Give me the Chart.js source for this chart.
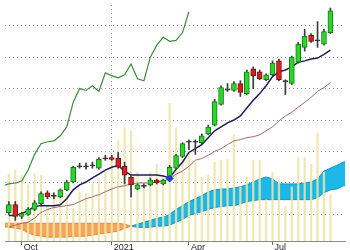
<!DOCTYPE html>
<html>
<head>
<meta charset="utf-8">
<script src="https://cdn.jsdelivr.net/npm/chart.js@4.4.0/dist/chart.umd.min.js"></script>
<style>
  html, body { margin: 0; padding: 0; background: #fff; }
</style>
</head>
<body>
<canvas id="myChart" width="350" height="250"></canvas>
<script>
// weekly candles, week 0 = first visible bar
var open  = [10.6,13.1,9.4,10.0,11.6,13.4,16.9,15.9,15.6,17.8,20.3,25.3,25.3,25.6,24.7,27.8,28.1,27.8,25.3,21.9,18.1,19.1,19.4,20.9,19.7,21.6,24.7,28.4,33.1,33.1,32.8,35.6,38.4,45.0,49.7,49.4,51.6,48.4,56.3,55.3,52.8,54.4,58.8,52.4,51.6,58.4,63.1,66.9,65.3,64.1,67.8];
var close = [13.1,9.4,10.3,11.6,13.7,16.6,15.6,15.9,17.8,20.3,25.0,25.3,25.3,25.6,27.5,27.8,27.5,25.0,22.5,19.4,19.4,19.1,20.9,20.0,20.9,25.0,28.7,32.5,33.1,33.1,35.0,37.8,45.9,50.3,49.7,51.6,48.8,55.3,54.1,53.1,54.4,58.1,52.8,52.4,60.0,64.1,66.6,65.0,65.3,68.1,74.7];
var high  = [14.1,14.1,10.6,12.2,14.4,17.2,17.5,16.9,18.1,20.9,25.3,26.3,26.3,26.6,28.1,28.8,28.8,29.7,26.6,22.5,19.7,19.7,21.6,21.2,21.2,25.6,29.1,32.8,33.7,33.7,35.6,38.4,46.6,50.9,51.6,52.2,52.5,55.9,56.9,55.9,54.7,58.8,59.4,52.8,60.3,64.7,68.8,67.5,71.3,68.8,75.6];
var low   = [10.0,8.1,8.7,9.7,11.2,13.1,15.0,15.0,15.3,17.5,20.0,24.7,24.4,24.7,24.4,27.2,27.2,24.7,19.7,15.6,17.8,18.4,19.1,19.7,19.4,21.2,24.4,28.1,30.6,29.1,32.5,35.3,38.1,44.7,49.1,49.1,47.5,48.1,50.0,52.8,52.5,54.1,52.5,48.1,51.3,58.1,61.9,64.7,63.1,63.8,67.5];
var volume = [68,72,67,57,68,67,37,45,43,47,33,50,48,58,63,70,85,102,115,112,70,57,70,78,64,140,115,83,92,80,65,67,80,82,83,108,55,65,82,82,42,70,62,35,55,85,85,78,110,70,47];

var tenkan = [9.7,9.7,10.3,11.2,12.5,12.8,12.8,12.8,13.1,15.0,17.8,19.4,20.3,21.6,22.8,24.1,25.0,25.6,23.7,22.5,22.5,22.5,22.5,22.5,22.2,21.6,24.4,26.6,29.7,30.9,32.2,34.4,36.6,37.8,39.1,40.0,41.3,43.8,46.3,48.4,50.9,53.8,55.3,55.9,56.9,58.4,58.8,59.4,59.7,60.9,62.2];
var kijun  = [6.0,6.6,7.2,7.5,8.8,10.6,11.6,12.2,12.5,12.8,13.1,14.1,15.0,15.6,16.3,17.2,18.1,18.8,19.1,19.7,20.0,20.0,20.0,20.3,20.6,21.3,22.8,23.8,25.3,27.2,27.8,28.8,30.0,30.9,32.2,33.4,33.8,34.4,34.7,35.3,36.6,37.8,39.7,41.3,42.5,44.1,45.6,47.2,49.1,50.3,51.9];
// these start one week before the first candle
var chikou = [19.1,19.7,20.0,20.6,24.1,29.1,32.5,33.1,33.4,35.0,37.8,45.6,50.0,49.4,50.9,49.1,55.0,54.1,53.4,54.4,57.8,53.1,52.5,60.0,63.8,66.3,65.0,65.3,67.8,74.4];
var spanA  = [6.0,6.0,5.6,5.3,4.1,3.4,3.1,2.8,2.8,2.8,2.8,3.1,3.1,3.1,3.4,3.8,4.1,4.4,4.7,5.6,6.3,6.9,7.5,8.1,8.8,9.1,10.0,11.6,12.8,14.1,15.0,16.0,17.2,17.8,18.1,18.1,18.4,18.8,19.4,20.3,21.3,21.9,21.3,19.7,19.7,19.7,19.7,20.0,20.3,21.3,23.8,24.7,25.6,26.6,27.2];
var spanB  = [7.2,7.2,7.2,7.2,7.2,7.2,7.2,7.2,7.2,7.2,7.2,7.2,7.2,7.2,7.2,7.2,7.2,7.2,7.2,6.9,6.3,5.9,5.9,5.9,6.3,6.3,6.6,7.5,8.4,9.7,10.3,10.9,11.6,12.2,12.5,12.8,12.8,13.4,14.1,14.4,14.7,14.7,14.7,14.7,14.7,14.7,14.7,14.7,14.7,15.3,16.9,17.8,18.1,19.1,19.4];
var leadStart = -1;

var crossWeek = 25;
var crossValue = 21.4;

var tickWeeks  = [2, 16, 28, 41];
var tickLabels = ["Oct", "2021", "Apr", "Jul"];
var priceGrid  = [10, 20, 30, 40, 50, 60, 70];

function pts(arr, start) {
    return arr.map((v, i) => ({ x: i + start, y: v }));
}

var bodies = open.map((o, i) => {
    var c = close[i];
    var lo = Math.min(o, c), hi = Math.max(o, c);
    if (hi - lo < 0.3) { var m = (hi + lo) / 2; lo = m - 0.17; hi = m + 0.17; }
    return { x: i, y: [lo, hi] };
});
var bodyColor = open.map((o, i) => close[i] > o ? "#2ed42e" : (close[i] < o ? "#d42222" : "#333"));
var bodyBorder = open.map((o, i) => close[i] > o ? "#138013" : (close[i] < o ? "#801010" : "#333"));
var wicks = low.map((l, i) => ({ x: i, y: [l, high[i]] }));
var volBars = volume.map((v, i) => ({ x: i, y: v }));

function cloudEdge(ctx) {
    var i = ctx.p0DataIndex;
    return spanA[i] >= spanB[i] ? "#1590c8" : "#e08a38";
}

var ctx = document.getElementById("myChart").getContext("2d");
var chart = new Chart(ctx, {
    type: "bar",
    data: {
        datasets: [
            {
                type: "line", label: "Senkou A", data: pts(spanA, leadStart),
                borderWidth: 1, pointRadius: 0, segment: { borderColor: cloudEdge },
                fill: { target: "+1", above: "#1cb9e8", below: "#f5a55a" },
                order: 10,
            },
            {
                type: "line", label: "Senkou B", data: pts(spanB, leadStart),
                borderWidth: 1, pointRadius: 0, segment: { borderColor: cloudEdge },
                fill: false, order: 9,
            },
            {
                type: "bar", label: "Volume", data: volBars, yAxisID: "yv",
                backgroundColor: "rgba(238, 227, 165, 0.85)", barThickness: 1.6,
                grouped: false, order: 8,
            },
            {
                type: "line", label: "Chikou", data: pts(chikou, leadStart),
                borderColor: "#3a8c3a", borderWidth: 1.2, pointRadius: 0, fill: false, order: 6,
            },
            {
                type: "line", label: "Kijun", data: pts(kijun, 0),
                borderColor: "#a86a66", borderWidth: 1, pointRadius: 0, fill: false, order: 5,
            },
            {
                type: "line", label: "Tenkan", data: pts(tenkan, 0),
                borderColor: "#1c1c58", borderWidth: 1.5, pointRadius: 0, fill: false, order: 4,
            },
            {
                type: "bar", label: "Wick", data: wicks,
                backgroundColor: "#3a3a3a", barThickness: 1, grouped: false, order: 3,
            },
            {
                type: "bar", label: "Body", data: bodies,
                backgroundColor: bodyColor, borderColor: bodyBorder, borderWidth: 1,
                borderSkipped: false, barThickness: 5, grouped: false, order: 2,
            },
            {
                type: "scatter", label: "Cross", data: [{ x: crossWeek, y: crossValue }],
                pointStyle: "rectRot", pointRadius: 3.5, backgroundColor: "#1f3fd0",
                borderColor: "#1f3fd0", order: 1,
            },
        ],
    },
    options: {
        responsive: false,
        animation: false,
        events: [],
        layout: { padding: 0 },
        plugins: { legend: { display: false }, tooltip: { enabled: false } },
        scales: {
            x: {
                type: "linear", min: -0.6, max: 52.27, offset: false,
                afterBuildTicks: (s) => { s.ticks = tickWeeks.map((v) => ({ value: v })); },
                ticks: {
                    autoSkip: false, maxRotation: 0, align: "start", labelOffset: 2, padding: -2,
                    color: "#222", font: { family: "Liberation Sans, Arial", size: 9, lineHeight: 1 },
                    callback: (v, i) => tickLabels[i],
                },
                grid: {
                    offset: false,
                    color: (c) => (c.tick && c.tick.value === 16 ? "#9a9a9a" : "transparent"),
                    tickColor: "#666", tickLength: 4,
                },
                border: { color: "#8a8a8a", dash: [1, 3] },
            },
            y: {
                min: 1.56, max: 76.56,
                afterBuildTicks: (s) => { s.ticks = priceGrid.map((v) => ({ value: v })); },
                ticks: { display: false },
                grid: { color: "#9a9a9a", drawTicks: false },
                border: { display: false, dash: [1, 3] },
            },
            yv: { display: false, min: 0, max: 240 },
        },
    },
});
</script>
</body>
</html>
